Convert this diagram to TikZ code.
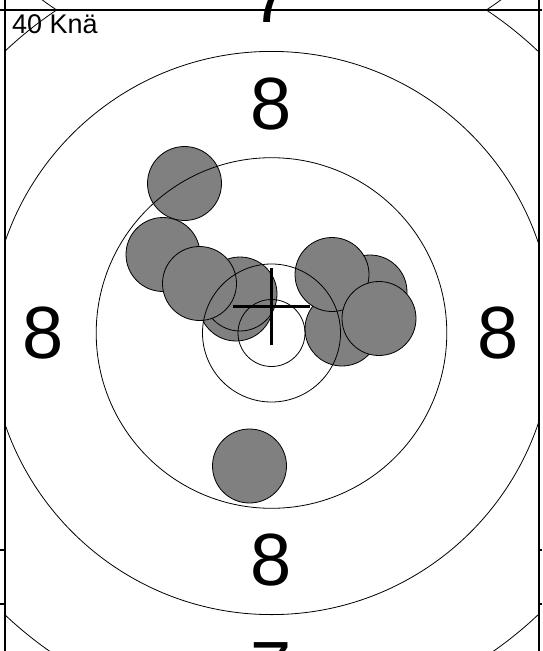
\documentclass[tikz,border=0pt]{standalone}
\usepackage{fontspec}
\setmainfont{Liberation Sans}
\begin{document}
\begin{tikzpicture}[x=1pt,y=-1pt,
    ring/.style={line width=0.8pt},
    frameline/.style={line width=1.5pt},
    shot/.style={fill=gray,draw=black,line width=0.8pt},
    ringnum/.style={font=\fontsize{74}{74}\selectfont,inner sep=0pt}]
    \useasboundingbox (0,0) rectangle (542,651);
    \clip (0,0) rectangle (542,651);
    % shots, back to front
    \foreach \sx/\sy in {184.5/183.5, 163/254.5, 236/304, 240/294, 199.5/283.5,
                         370/292, 342/329, 332/274.5, 379/318.5, 249.5/466}
        \draw[shot] (\sx,\sy) circle[radius=37];
    % rings of this cell
    \begin{scope}
        \clip (5,10) rectangle (539,656);
        \foreach \r in {33.5,69,175.3,281.6,387.9}
            \draw[ring] (271.5,333) circle[radius=\r];
    \end{scope}
    % outer ring of the cell above
    \begin{scope}
        \clip (5,-636) rectangle (539,10);
        \draw[ring] (271.5,-313) circle[radius=387.9];
    \end{scope}
    % cell borders
    \draw[frameline] (0,10) -- (542,10);
    \draw[frameline] (5,0) -- (5,651);
    \draw[frameline] (539,0) -- (539,651);
    \foreach \ty in {550,604} {
        \draw[frameline] (0,\ty) -- (5,\ty);
        \draw[frameline] (539,\ty) -- (542,\ty);
    }
    % ring numbers
    \node[ringnum] (eighttop) at (271.5,104) {8};
    \node[ringnum] (eightbottom) at (271.5,560) {8};
    \node[ringnum] (eightleft) at (43.5,333) {8};
    \node[ringnum] (eightright) at (498.5,333) {8};
    \node[ringnum] (seventop) at (271.5,-2.5) {7};
    \node[ringnum] (sevenbottom) at (271.5,668.5) {7};
    % mean point of impact
    \draw[line width=3.3pt] (233,306.5) -- (310,306.5);
    \draw[line width=3.3pt] (271.5,268) -- (271.5,345);
    \node[anchor=base west,inner sep=0pt,font=\fontsize{27}{27}\selectfont] (series) at (12,33.3) {40 Knä};
\end{tikzpicture}
\end{document}
